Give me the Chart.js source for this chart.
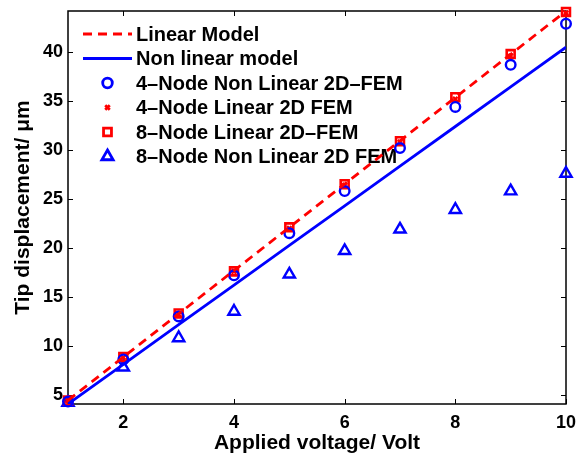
<!DOCTYPE html>
<html>
<head>
<meta charset="utf-8">
<script src="https://cdn.jsdelivr.net/npm/chart.js@4.4.0/dist/chart.umd.min.js"></script>
<style>
  html, body { margin: 0; padding: 0; background: #fff; }
  #wrap { width: 576px; height: 457px; position: relative; }
</style>
</head>
<body>
<div id="wrap"><canvas id="chart"></canvas></div>
<script>
// applied voltage (x) and tip displacement in um (y)
const voltages = [1, 2, 3, 4, 5, 6, 7, 8, 9, 10];
const linearModel = [4.42, 8.84, 13.26, 17.68, 22.10, 26.52, 30.94, 35.36, 39.78, 44.20];
const nonLinearModel = [4.05, 8.10, 12.15, 16.20, 20.25, 24.30, 28.35, 32.40, 36.45, 40.50];
const fem4NonLinear = [4.3, 8.6, 13.0, 17.2, 21.5, 25.8, 30.2, 34.4, 38.7, 42.9];
const fem4Linear = [4.4, 8.8, 13.2, 17.6, 22.0, 26.4, 30.8, 35.2, 39.6, 44.0];
const fem8Linear = [4.4, 8.85, 13.3, 17.6, 22.1, 26.5, 30.9, 35.4, 39.8, 44.1];
const fem8NonLinear = [4.2, 7.8, 10.8, 13.5, 17.3, 19.7, 21.9, 23.9, 25.8, 27.6];

const xTicks = [2, 4, 6, 8, 10];
const yTicks = [5, 10, 15, 20, 25, 30, 35, 40];

const FONT = 'Liberation Sans, Arial, Helvetica, sans-serif';

function pts(arr) {
  return voltages.map(function(v, i) { return {x: v, y: arr[i]}; });
}

// box round the axes with inward ticks on all four sides
const framePlugin = {
  id: 'frame',
  beforeDatasetsDraw(chart) {
    const ctx = chart.ctx;
    const a = chart.chartArea;
    const x = chart.scales.x, y = chart.scales.y;
    ctx.save();
    ctx.strokeStyle = '#000';
    ctx.lineWidth = 1.5;
    ctx.strokeRect(a.left, a.top, a.right - a.left, a.bottom - a.top);
    ctx.lineWidth = 1;
    ctx.beginPath();
    x.ticks.forEach(function(t) {
      const px = Math.round(x.getPixelForValue(t.value)) + 0.5;
      ctx.moveTo(px, a.bottom); ctx.lineTo(px, a.bottom - 5);
      ctx.moveTo(px, a.top); ctx.lineTo(px, a.top + 5);
    });
    y.ticks.forEach(function(t) {
      const py = Math.round(y.getPixelForValue(t.value)) + 0.5;
      ctx.moveTo(a.left, py); ctx.lineTo(a.left + 5, py);
      ctx.moveTo(a.right, py); ctx.lineTo(a.right - 5, py);
    });
    ctx.stroke();
    ctx.restore();
  }
};

// legend inside the plot, top left, no box
const legendPlugin = {
  id: 'insideLegend',
  beforeDatasetsDraw(chart) {
    const ctx = chart.ctx;
    const a = chart.chartArea;
    ctx.save();
    chart.data.datasets.forEach(function(ds, i) {
      const yy = a.top + 23 + i * 24.5;
      const x0 = a.left + 15, x1 = a.left + 64;
      ctx.strokeStyle = ds.borderColor;
      if (ds.showLine) {
        ctx.lineWidth = ds.borderWidth;
        ctx.setLineDash(ds.borderDash || []);
        ctx.beginPath();
        ctx.moveTo(x0, yy); ctx.lineTo(x1, yy);
        ctx.stroke();
        ctx.setLineDash([]);
      } else {
        ctx.fillStyle = 'rgba(0,0,0,0)';
        Chart.helpers.drawPoint(ctx, {
          pointStyle: ds.pointStyle, radius: ds.pointRadius,
          rotation: 0, borderWidth: ds.pointBorderWidth
        }, (x0 + x1) / 2, yy);
      }
      ctx.fillStyle = '#000';
      ctx.font = 'bold 20px ' + FONT;
      ctx.textBaseline = 'middle';
      ctx.textAlign = 'left';
      ctx.fillText(ds.label, a.left + 68, yy + 1);
    });
    ctx.restore();
  }
};

const blue = '#0000ff';
const red = '#ff0000';

new Chart(document.getElementById('chart'), {
  type: 'scatter',
  data: {
    datasets: [
      {
        label: 'Linear Model', data: pts(linearModel), showLine: true,
        borderColor: red, borderWidth: 2.8, borderDash: [9, 6], pointRadius: 0
      },
      {
        label: 'Non linear model', data: pts(nonLinearModel), showLine: true,
        borderColor: blue, borderWidth: 2.8, pointRadius: 0
      },
      {
        label: '4\u2013Node Non Linear 2D\u2013FEM', data: pts(fem4NonLinear), showLine: false,
        borderColor: blue, backgroundColor: 'rgba(0,0,0,0)', pointStyle: 'circle',
        pointRadius: 4.8, pointBorderWidth: 2.4, clip: false
      },
      {
        label: '4\u2013Node Linear 2D FEM', data: pts(fem4Linear), showLine: false,
        borderColor: red, backgroundColor: 'rgba(0,0,0,0)', pointStyle: 'crossRot',
        pointRadius: 3.2, pointBorderWidth: 2.4, clip: false
      },
      {
        label: '8\u2013Node Linear 2D\u2013FEM', data: pts(fem8Linear), showLine: false,
        borderColor: red, backgroundColor: 'rgba(0,0,0,0)', pointStyle: 'rect',
        pointRadius: 5.6, pointBorderWidth: 2.6, clip: false
      },
      {
        label: '8\u2013Node Non Linear 2D FEM', data: pts(fem8NonLinear), showLine: false,
        borderColor: blue, backgroundColor: 'rgba(0,0,0,0)', pointStyle: 'triangle',
        pointRadius: 6.5, pointBorderWidth: 2.4, clip: false
      }
    ]
  },
  options: {
    responsive: true,
    maintainAspectRatio: false,
    animation: false,
    layout: { padding: { top: 11, right: 10, left: 0, bottom: 0 } },
    plugins: { legend: { display: false }, tooltip: { enabled: false } },
    scales: {
      x: {
        type: 'linear', min: 1, max: 10,
        afterBuildTicks: function(s) { s.ticks = xTicks.map(function(v) { return {value: v}; }); },
        afterFit: function(s) { s.height = 53; s.paddingLeft = 0; s.paddingRight = 0; },
        grid: { display: false, drawTicks: false },
        border: { display: false },
        ticks: { color: '#000', padding: 8, font: { family: FONT, size: 18, weight: 'bold' } },
        title: {
          display: true, text: 'Applied voltage/ Volt', color: '#000',
          padding: { top: 0, bottom: 1 },
          font: { family: FONT, size: 21, weight: 'bold' }
        }
      },
      y: {
        type: 'linear', min: 4.05, max: 44.2,
        afterBuildTicks: function(s) { s.ticks = yTicks.map(function(v) { return {value: v}; }); },
        afterFit: function(s) { s.width = 68; s.paddingTop = 0; s.paddingBottom = 0; },
        grid: { display: false, drawTicks: false },
        border: { display: false },
        ticks: { color: '#000', padding: 5, font: { family: FONT, size: 18, weight: 'bold' } },
        title: {
          display: true, text: 'Tip displacement/ \u03bcm', color: '#000',
          padding: { top: 11, bottom: 0 },
          font: { family: FONT, size: 21, weight: 'bold' }
        }
      }
    }
  },
  plugins: [framePlugin, legendPlugin]
});
</script>
</body>
</html>
